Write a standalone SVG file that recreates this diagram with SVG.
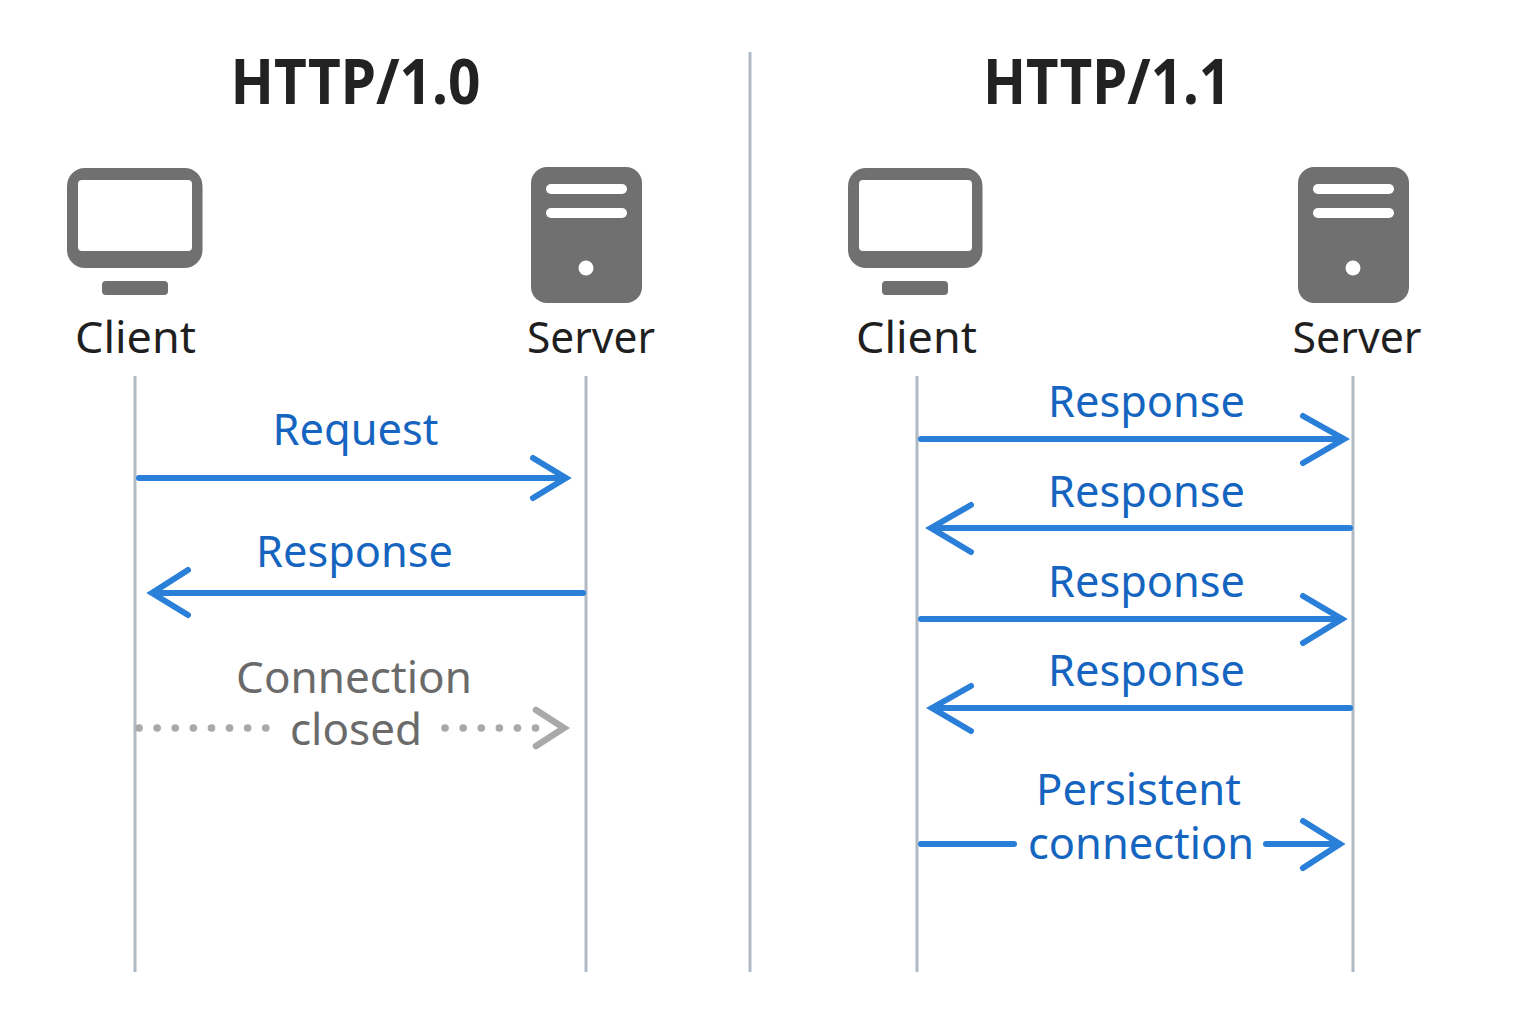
<svg xmlns="http://www.w3.org/2000/svg" width="1536" height="1024" viewBox="0 0 1536 1024">
<style>
text{font-family:"Noto Sans","Open Sans","Liberation Sans",sans-serif;text-anchor:middle}
.h{font-size:62px;font-weight:700;fill:#222}
.n{font-size:44px;fill:#1f1f1f}
.b{font-size:44px;fill:#1565c0}
.g{font-size:44px;fill:#6a6a6a}
.life{stroke:#b0bac4;stroke-width:3;fill:none}
.a{stroke:#2a7fd9;stroke-width:6;fill:none;stroke-linecap:round;stroke-linejoin:miter}
.d{stroke:#a9a9a9;stroke-width:7.5;fill:none;stroke-linecap:round;stroke-dasharray:0.1 18}
.dh{stroke:#a9a9a9;stroke-width:6.5;fill:none;stroke-linecap:round}
.i{fill:#707070}
.w{fill:#fff}
</style>
<rect width="1536" height="1024" fill="#fff"/>
<g id="connectors">
<line class="life" x1="750" y1="52" x2="750" y2="972"/>
<line class="life" x1="135" y1="376" x2="135" y2="972"/>
<line class="life" x1="586" y1="376" x2="586" y2="972"/>
<line class="life" x1="917" y1="376" x2="917" y2="972"/>
<line class="life" x1="1353" y1="376" x2="1353" y2="972"/>
<path class="a" d="M139 478H566M533 458L566 478L533 498"/>
<path class="a" d="M583 593H152M188 570L152 593L188 615"/>
<path class="d" d="M139 728H268M445 728H553"/>
<path class="dh" d="M536 710L564 728L536 746"/>
<path class="a" d="M921 439H1344M1303 416L1344 439L1303 463"/>
<path class="a" d="M1350 528H931M971 505L931 528L971 552"/>
<path class="a" d="M921 619H1342M1303 596L1342 619L1303 643"/>
<path class="a" d="M1350 708H932M971 686L932 708L971 731"/>
<path class="a" d="M921 844H1014M1266 844H1340M1303 821L1340 844L1303 868"/>
</g>
<g id="title-10"><text class="h" x="355.500" y="104" textLength="250" lengthAdjust="spacingAndGlyphs">HTTP/1.0</text></g>
<g id="title-11"><text class="h" x="1107" y="104" textLength="248" lengthAdjust="spacingAndGlyphs">HTTP/1.1</text></g>
<g id="client-10">
<rect class="i" x="67" y="168" width="135.500" height="100" rx="18"/><rect class="w" x="78" y="180" width="114" height="71" rx="4"/><rect class="i" x="102" y="281" width="66" height="14" rx="4"/>
<text class="n" x="135.500" y="353" textLength="121" lengthAdjust="spacingAndGlyphs">Client</text></g>
<g id="server-10">
<rect class="i" x="531" y="167" width="111" height="136" rx="16"/><rect class="w" x="546" y="184" width="81" height="10" rx="5"/><rect class="w" x="546" y="208" width="81" height="10" rx="5"/><circle class="w" cx="586" cy="268" r="7.500"/>
<text class="n" x="591" y="353" textLength="128" lengthAdjust="spacingAndGlyphs">Server</text></g>
<g id="client-11">
<rect class="i" x="848" y="168" width="134.500" height="100" rx="18"/><rect class="w" x="859" y="180" width="113" height="71" rx="4"/><rect class="i" x="882" y="281" width="66" height="14" rx="4"/>
<text class="n" x="916.500" y="353" textLength="121" lengthAdjust="spacingAndGlyphs">Client</text></g>
<g id="server-11">
<rect class="i" x="1298" y="167" width="111" height="136" rx="16"/><rect class="w" x="1313" y="184" width="81" height="10" rx="5"/><rect class="w" x="1313" y="208" width="81" height="10" rx="5"/><circle class="w" cx="1353" cy="268" r="7.500"/>
<text class="n" x="1357" y="353" textLength="129" lengthAdjust="spacingAndGlyphs">Server</text></g>
<g id="labels">
<text class="b" x="355.500" y="445" textLength="166" lengthAdjust="spacingAndGlyphs">Request</text>
<text class="b" x="354.500" y="567" textLength="197" lengthAdjust="spacingAndGlyphs">Response</text>
<text class="g" x="354" y="693">Connection</text>
<text class="g" x="356" y="745">closed</text>
<text class="b" x="1146.500" y="417" textLength="197" lengthAdjust="spacingAndGlyphs">Response</text>
<text class="b" x="1146.500" y="507" textLength="197" lengthAdjust="spacingAndGlyphs">Response</text>
<text class="b" x="1146.500" y="597" textLength="197" lengthAdjust="spacingAndGlyphs">Response</text>
<text class="b" x="1146.500" y="686" textLength="197" lengthAdjust="spacingAndGlyphs">Response</text>
<text class="b" x="1138.500" y="805" textLength="205" lengthAdjust="spacingAndGlyphs">Persistent</text>
<text class="b" x="1141" y="859" textLength="226" lengthAdjust="spacingAndGlyphs">connection</text>
</g>
</svg>
